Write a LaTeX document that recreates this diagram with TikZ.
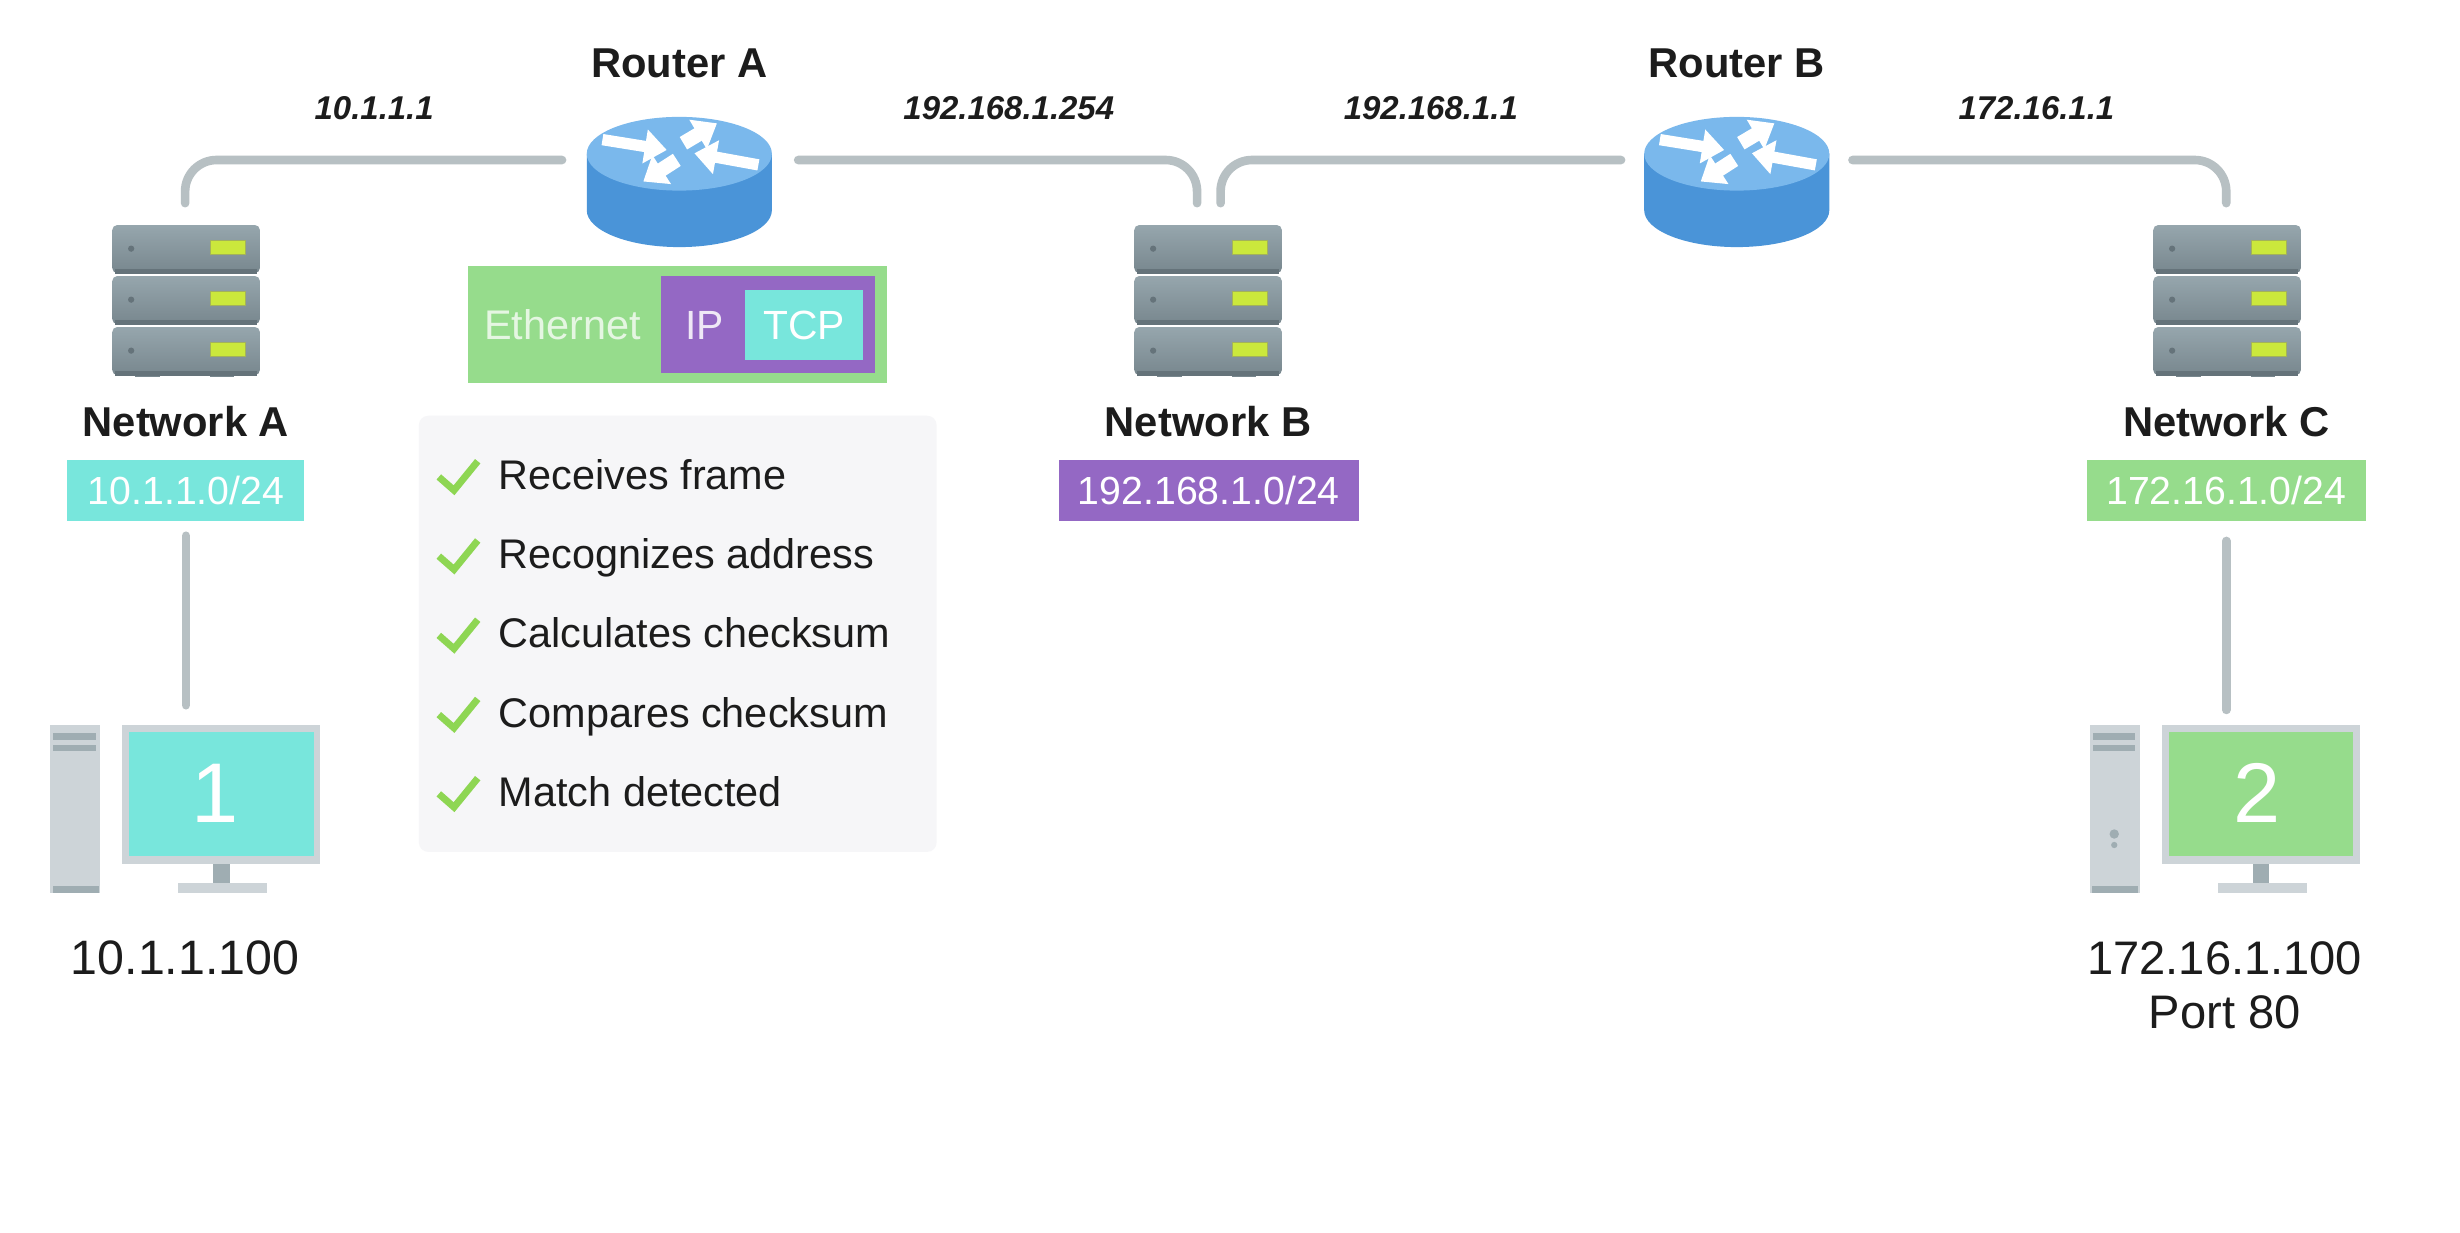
\documentclass[tikz,border=0pt]{standalone}
\usepackage{fontspec}
\setmainfont{Liberation Sans}
\usetikzlibrary{arrows.meta}
\definecolor{wiregray}{HTML}{B7C0C3}
\definecolor{tealbox}{HTML}{78E6DC}
\definecolor{purplebox}{HTML}{9468C4}
\definecolor{greenbox}{HTML}{96DC8C}
\definecolor{paneltint}{HTML}{F6F6F8}
\definecolor{checkgreen}{HTML}{8ED653}
\definecolor{routertop}{HTML}{7AB8EC}
\definecolor{routerside}{HTML}{4A94D8}
\definecolor{ledyellow}{HTML}{CBE83C}
\definecolor{ledrim}{HTML}{A3B25A}
\definecolor{pcframe}{HTML}{CDD4D8}
\definecolor{pcdark}{HTML}{9FADB2}
\definecolor{servertop}{HTML}{96A6AD}
\definecolor{serverbottom}{HTML}{78878E}
\definecolor{serverdark}{HTML}{65737A}
\definecolor{inktext}{HTML}{1C1C1C}
\tikzset{
    wire/.style={draw=wiregray, line width=2.75pt, line cap=round, rounded corners=10pt},
    flow/.style={draw=white, line width=#1, -{Triangle[length=7pt, width=10.5pt]}},
    anchorbox/.style={inner sep=0pt, outer sep=0pt, minimum width=#1, minimum height=0pt},
    title/.style={text=inktext, inner sep=0pt, text height=9.4pt, text depth=0pt, font=\fontsize{13.3}{15}\selectfont\bfseries},
    ifname/.style={text=inktext, inner sep=0pt, text height=7.4pt, text depth=0pt, font=\fontsize{10.5}{12}\selectfont\bfseries\itshape},
    hostip/.style={text=inktext, inner sep=0pt, text height=11pt, text depth=0pt, font=\fontsize{#1}{18}\selectfont},
    netbox/.style={fill=#1, text=white, inner sep=0pt, outer sep=4.75pt, minimum height=19.5pt, text height=9pt, text depth=0pt, font=\fontsize{12.5}{15}\selectfont},
    layer/.style={fill=#1, text=white, inner sep=0pt, text height=9.4pt, text depth=0pt, font=\fontsize{13}{15}\selectfont},
    checktext/.style={text=inktext, anchor=west, inner sep=0pt, text height=9.5pt, text depth=0pt, font=\fontsize{13.2}{15}\selectfont},
    screennum/.style={text=white, inner sep=0pt, font=\fontsize{27}{30}\selectfont},
    pics/routericon/.style={code={
        \fill[routerside] (-59,0) -- (-59,36) arc[start angle=180, end angle=360, x radius=59, y radius=-23.5] -- (59,0) -- cycle;
        \fill[routertop] (0,0) ellipse[x radius=59, y radius=23.5];
        \draw[flow=3.6pt] (-49,-9) -- (-8,-2.4);
        \draw[flow=4.6pt] (2.6,-6.7) -- (24,-19.4);
        \draw[flow=3.6pt] (50.4,7.1) -- (9.6,-0.3);
        \draw[flow=4.6pt] (-1.6,3.9) -- (-23,17.7);
    }},
    pics/servericon/.style={code={
        \fill[serverbottom] (-32.5,94) rectangle (-16.5,97);
        \fill[serverbottom] (15.5,94) rectangle (30.5,97);
        \foreach \u in {0,32.5,65} {
            \shade[rounded corners=1.5pt, top color=servertop, bottom color=serverbottom] (-47,\u) rectangle (47,\u+30.5);
            \fill[serverdark] (-45,\u+28) rectangle (45,\u+31);
            \fill[ledyellow, draw=ledrim, line width=0.3pt] (15.5,\u+9.5) rectangle (38,\u+19);
            \fill[serverdark] (-35,\u+15) circle[radius=1pt];
        }
    }},
    pics/pcicon/.style={code={
        % tower
        \fill[pcframe] (-86,0) rectangle (-54,107);
        \fill[pcdark] (-84,5) rectangle (-57,9.7);
        \fill[pcdark] (-84,12.8) rectangle (-57,17);
        \fill[pcdark] (-84.5,103) rectangle (-55,107);
        % monitor
        \fill[pcframe] (-40,0) rectangle (86,89);
        \fill[#1] (-35.5,4.3) rectangle (82,83.4);
        \fill[pcdark] (18,89) rectangle (28.5,101);
        \fill[pcframe] (-4.5,101) rectangle (52.5,107);
    }},
}
\begin{document}
\begin{tikzpicture}[x=0.5pt, y=-0.5pt]
        \useasboundingbox[fill=white] (0,0) rectangle (1568,785.3);
        % icons
        \pic at (433,98) {routericon};
        \pic at (1107,98) {routericon};
        \pic at (118.6,143.5) {servericon};
        \pic at (770,143.5) {servericon};
        \pic at (1419.5,143.5) {servericon};
        \pic at (118,462) {pcicon=tealbox};
        \pic at (1418,462) {pcicon=greenbox};
        \fill[pcdark] (1347.6,531.6) circle[radius=1.5pt];
        \fill[pcdark] (1347.6,538.6) circle[radius=1pt];
        % panel and headers
        \fill[paneltint, rounded corners=3pt] (267,265) rectangle (597,543);
        \node[fill=greenbox, minimum width=133.5pt, minimum height=37.4pt, inner sep=0pt] (frame-eth) at (431.75,207) {};
        \node[fill=purplebox, minimum width=68.5pt, minimum height=31pt, inner sep=0pt] (frame-ip) at (489.5,207) {};
        \node[layer=tealbox, minimum width=37.5pt, minimum height=22.2pt] (frame-tcp) at (512.5,207) {TCP};
        \node[text=greenbox!25!white, inner sep=0pt, text height=9.4pt, text depth=0pt, font=\fontsize{13.2}{15}\selectfont] (txt-eth) at (358.5,207) {Ethernet};
        \node[text=purplebox!15!white, inner sep=0pt, text height=9.4pt, text depth=0pt, font=\fontsize{13}{15}\selectfont] (txt-ip) at (449,207) {IP};
        % nodes
        \node[title] (lbl-router-a) at (433,40) {Router A};
        \node[title] (lbl-router-b) at (1107,40) {Router B};
        \node[ifname] (if-a1) at (238.5,69) {10.1.1.1};
        \node[ifname] (if-a2) at (643,69) {192.168.1.254};
        \node[ifname] (if-b1) at (912,69) {192.168.1.1};
        \node[ifname] (if-b2) at (1298,69) {172.16.1.1};
        \node[anchorbox=75.25pt] (router-a) at (433.5,102) {};
        \node[anchorbox=73.75pt] (router-b) at (1107,102) {};
        \node[anchorbox=47.5pt, minimum height=61.5pt] (server-a) at (118,191) {};
        \node[anchorbox=47.5pt, minimum height=61.5pt] (server-b) at (770,191) {};
        \node[anchorbox=47.5pt, minimum height=61.5pt] (server-c) at (1419,191) {};
        \coordinate (server-b-left) at (763,129.5);
        \coordinate (server-b-right) at (778,129.5);
        \node[title] (net-a) at (118.5,269) {Network A};
        \node[title] (net-b) at (770,269) {Network B};
        \node[title] (net-c) at (1419,269) {Network C};
        \node[netbox=tealbox, minimum width=75.5pt] (box-a) at (118.5,312.5) {10.1.1.0/24};
        \node[netbox=purplebox, minimum width=95.5pt] (box-b) at (770.5,312.5) {192.168.1.0/24};
        \node[netbox=greenbox, minimum width=89pt, outer sep=6.4pt] (box-c) at (1419,312.5) {172.16.1.0/24};
        \node[anchorbox=63pt, minimum height=40pt] (pc-a) at (118.5,489.5) {};
        \node[anchorbox=63pt, minimum height=40pt] (pc-c) at (1419,492.5) {};
        \node[screennum] (num-a) at (137,505.5) {1};
        \node[screennum] (num-c) at (1438.5,505.5) {2};
        \node[hostip=15.4] (ip-a) at (118,610) {10.1.1.100};
        \node[hostip=15] (ip-c) at (1418,610) {172.16.1.100};
        \node[hostip=15] (port-c) at (1418,644.5) {Port 80};
        % checklist
        \foreach \y/\t/\n in {303/Receives frame/1, 353.5/Recognizes address/2, 404/Calculates checksum/3, 454.5/Compares checksum/4, 505/Match detected/5} {
            \draw[checkgreen, line width=2.2pt] (279.7,\y+1) -- (289.4,\y+9.5) -- (304.5,\y-9);
            \node[checktext] (check-\n) at (317.5,\y-0.5) {\t};
        }
        % wires
        \draw[wire] (router-a.west) -| (server-a.north);
        \draw[wire] (router-a.east) -| (server-b-left);
        \draw[wire] (router-b.west) -| (server-b-right);
        \draw[wire] (router-b.east) -| (server-c.north);
        \draw[wire] (box-a.south) -- (pc-a.north);
        \draw[wire] (box-c.south) -- (pc-c.north);
        \end{tikzpicture}
\end{document}
